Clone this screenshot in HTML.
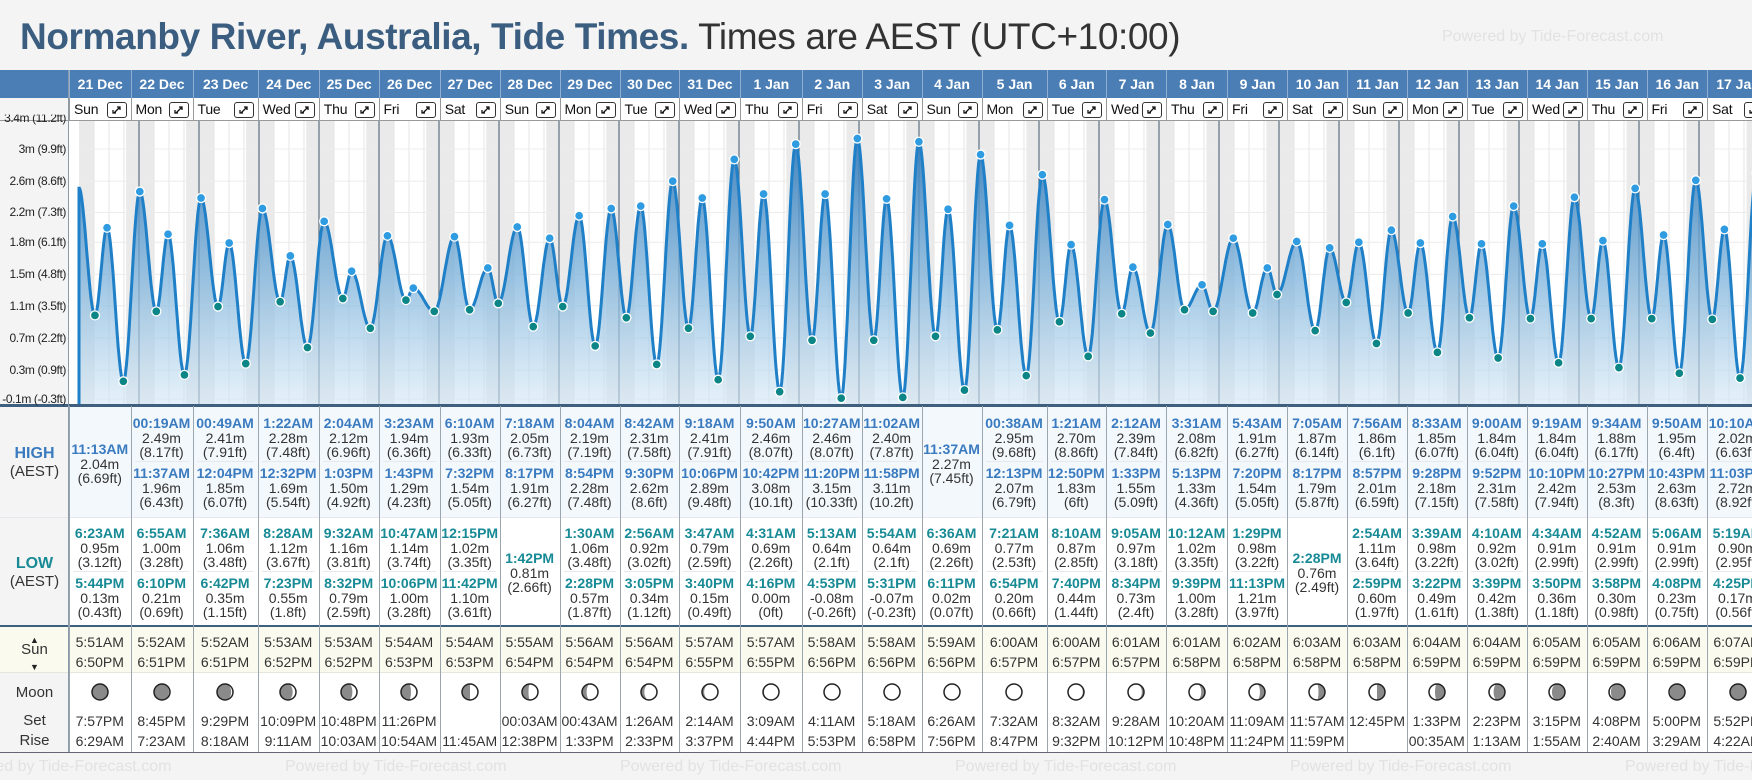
<!DOCTYPE html>
<html><head><meta charset="utf-8">
<style>
*{box-sizing:border-box;margin:0;padding:0}
body{width:1752px;height:780px;overflow:hidden;background:#f4f4f4;font-family:"Liberation Sans",Arial,sans-serif;position:relative;color:#333}
.abs{position:absolute}
#root{position:absolute;left:0;top:0;width:1752px;height:780px;overflow:hidden}
#title{left:20px;top:16px;font-size:37px;white-space:nowrap;color:#333;letter-spacing:-0.4px}
#title b{color:#3a5d80}
.wm{color:#e2e2e2;font-size:16px;white-space:nowrap}
.cell{position:absolute;text-align:center;font-size:14px;line-height:14px;white-space:nowrap}
.hd{color:#fff;font-weight:bold;font-size:14px;text-align:center;line-height:28px}
</style></head><body>
<div id="root"></div>
<div id="title" class="abs"><b>Normanby River, Australia, Tide Times.</b> Times are AEST (UTC+10:00)</div>
<div class="abs wm" style="left:1442px;top:28px">Powered by Tide-Forecast.com</div>
<svg id="chart" class="abs" style="left:69px;top:121px" width="1683" height="283" viewBox="69 121 1683 283"></svg>
<script>
const days=['21 Dec','22 Dec','23 Dec','24 Dec','25 Dec','26 Dec','27 Dec','28 Dec','29 Dec','30 Dec','31 Dec','1 Jan','2 Jan','3 Jan','4 Jan','5 Jan','6 Jan','7 Jan','8 Jan','9 Jan','10 Jan','11 Jan','12 Jan','13 Jan','14 Jan','15 Jan','16 Jan','17 Jan'];
const weekdays=['Sun','Mon','Tue','Wed','Thu','Fri','Sat','Sun','Mon','Tue','Wed','Thu','Fri','Sat','Sun','Mon','Tue','Wed','Thu','Fri','Sat','Sun','Mon','Tue','Wed','Thu','Fri','Sat'];
const highs=[[['11:13AM',2.04]],[['00:19AM',2.49],['11:37AM',1.96]],[['00:49AM',2.41],['12:04PM',1.85]],[['1:22AM',2.28],['12:32PM',1.69]],[['2:04AM',2.12],['1:03PM',1.50]],[['3:23AM',1.94],['1:43PM',1.29]],[['6:10AM',1.93],['7:32PM',1.54]],[['7:18AM',2.05],['8:17PM',1.91]],[['8:04AM',2.19],['8:54PM',2.28]],[['8:42AM',2.31],['9:30PM',2.62]],[['9:18AM',2.41],['10:06PM',2.89]],[['9:50AM',2.46],['10:42PM',3.08]],[['10:27AM',2.46],['11:20PM',3.15]],[['11:02AM',2.40],['11:58PM',3.11]],[['11:37AM',2.27]],[['00:38AM',2.95],['12:13PM',2.07]],[['1:21AM',2.70],['12:50PM',1.83]],[['2:12AM',2.39],['1:33PM',1.55]],[['3:31AM',2.08],['5:13PM',1.33]],[['5:43AM',1.91],['7:20PM',1.54]],[['7:05AM',1.87],['8:17PM',1.79]],[['7:56AM',1.86],['8:57PM',2.01]],[['8:33AM',1.85],['9:28PM',2.18]],[['9:00AM',1.84],['9:52PM',2.31]],[['9:19AM',1.84],['10:10PM',2.42]],[['9:34AM',1.88],['10:27PM',2.53]],[['9:50AM',1.95],['10:43PM',2.63]],[['10:10AM',2.02],['11:03PM',2.72]]];
const lows=[[['6:23AM',0.95],['5:44PM',0.13]],[['6:55AM',1.00],['6:10PM',0.21]],[['7:36AM',1.06],['6:42PM',0.35]],[['8:28AM',1.12],['7:23PM',0.55]],[['9:32AM',1.16],['8:32PM',0.79]],[['10:47AM',1.14],['10:06PM',1.00]],[['12:15PM',1.02],['11:42PM',1.10]],[['1:42PM',0.81]],[['1:30AM',1.06],['2:28PM',0.57]],[['2:56AM',0.92],['3:05PM',0.34]],[['3:47AM',0.79],['3:40PM',0.15]],[['4:31AM',0.69],['4:16PM',0.00]],[['5:13AM',0.64],['4:53PM',-0.08]],[['5:54AM',0.64],['5:31PM',-0.07]],[['6:36AM',0.69],['6:11PM',0.02]],[['7:21AM',0.77],['6:54PM',0.20]],[['8:10AM',0.87],['7:40PM',0.44]],[['9:05AM',0.97],['8:34PM',0.73]],[['10:12AM',1.02],['9:39PM',1.00]],[['1:29PM',0.98],['11:13PM',1.21]],[['2:28PM',0.76]],[['2:54AM',1.11],['2:59PM',0.60]],[['3:39AM',0.98],['3:22PM',0.49]],[['4:10AM',0.92],['3:39PM',0.42]],[['4:34AM',0.91],['3:50PM',0.36]],[['4:52AM',0.91],['3:58PM',0.30]],[['5:06AM',0.91],['4:08PM',0.23]],[['5:19AM',0.90],['4:25PM',0.17]]];
const prevHigh=[-0.2,2.55];
const sunrise=['5:51AM','5:52AM','5:52AM','5:53AM','5:53AM','5:54AM','5:54AM','5:55AM','5:56AM','5:56AM','5:57AM','5:57AM','5:58AM','5:58AM','5:59AM','6:00AM','6:00AM','6:01AM','6:01AM','6:02AM','6:03AM','6:03AM','6:04AM','6:04AM','6:05AM','6:05AM','6:06AM','6:07AM'];
const sunset=['6:50PM','6:51PM','6:51PM','6:52PM','6:52PM','6:53PM','6:53PM','6:54PM','6:54PM','6:54PM','6:55PM','6:55PM','6:56PM','6:56PM','6:56PM','6:57PM','6:57PM','6:57PM','6:58PM','6:58PM','6:58PM','6:58PM','6:59PM','6:59PM','6:59PM','6:59PM','6:59PM','6:59PM'];
const moonTop=['7:57PM','8:45PM','9:29PM','10:09PM','10:48PM','11:26PM','','00:03AM','00:43AM','1:26AM','2:14AM','3:09AM','4:11AM','5:18AM','6:26AM','7:32AM','8:32AM','9:28AM','10:20AM','11:09AM','11:57AM','12:45PM','1:33PM','2:23PM','3:15PM','4:08PM','5:00PM','5:52PM'];
const moonBottom=['6:29AM','7:23AM','8:18AM','9:11AM','10:03AM','10:54AM','11:45AM','12:38PM','1:33PM','2:33PM','3:37PM','4:44PM','5:53PM','6:58PM','7:56PM','8:47PM','9:32PM','10:12PM','10:48PM','11:24PM','11:59PM','','00:35AM','1:13AM','1:55AM','2:40AM','3:29AM','4:22AM'];
const moonPhase=[0.04,0.08,0.11,0.15,0.18,0.21,0.25,0.28,0.32,0.35,0.38,0.42,0.45,0.49,0.52,0.55,0.59,0.62,0.66,0.69,0.72,0.75,0.79,0.82,0.86,0.89,0.92,0.96];
const tickVals=[-0.09,0.27,0.67,1.07,1.46,1.86,2.23,2.62,3.02,3.41];
const tickLabels=['-0.1m (-0.3ft)','0.3m (0.9ft)','0.7m (2.2ft)','1.1m (3.5ft)','1.5m (4.8ft)','1.8m (6.1ft)','2.2m (7.3ft)','2.6m (8.6ft)','3m (9.9ft)','3.4m (11.2ft)'];
const edges=[69,130.5,192.5,257.6,318.8,378.5,439.7,499.7,559.5,619.5,679,740,801.7,861.8,921.5,981.5,1046.6,1106,1166,1227,1287,1347,1407,1466.5,1527,1586.6,1646.5,1707,1768];

function hrs(s){const m=s.match(/(\d+):(\d+)(AM|PM)/);let h=(+m[1])%12;if(m[3]=='PM')h+=12;return h+(+m[2])/60;}
function X(t){return 79+t*2.5;}
function Y(v){return 399-(v+0.09)*80.4;}
function ft(m){return parseFloat((m*3.28084).toFixed(2))+'ft';}
const root=document.getElementById('root');
function box(l,t,w,h,bg,name){const d=document.createElement('div');d.className='abs';d.style.cssText=`left:${l}px;top:${t}px;width:${w}px;height:${h}px;background:${bg}`;


root.appendChild(d);return d;}
function txt(l,t,w,s,color,bold,name,size){const d=document.createElement('div');d.className='cell';d.style.cssText=`left:${l}px;top:${t}px;width:${w}px;color:${color};${bold?'font-weight:bold;':''}${size?'font-size:'+size+'px;':''}`;d.textContent=s;


root.appendChild(d);return d;}

box(0,70,1752,28,'#4b7eb4','date-header-bar');
box(69,98,1683,23,'#fff','weekday-row');
box(0,121,69,285,'#f4f4f4','y-axis-panel');
box(69,406,1683,111,'#f3f8fd','high-tide-section');
box(69,517,1683,109,'#fff','low-tide-section');
box(0,626,1752,47,'#fafaee','sun-section');
box(69,673,1683,79,'#fff','moon-section');
box(0,404,1752,3,'#3e5f7e','chart-bottom-border');
box(0,625,1752,2,'#3e5f7e','low-bottom-border');
box(0,517,1752,1,'#e4e8ec','high-low-divider');
box(0,672,1752,1,'#e6e6dc','sun-moon-divider');
box(0,752,1752,1,'#667','moon-bottom-border');
box(0,120,1752,1,'#999','weekday-bottom-border');
box(68,70,1,682,'#8a9aa8','left-column-border');

txt(0,447,69,'HIGH','#3a7bbf',true,'high-label',16);
txt(0,465,69,'(AEST)','#333',false,'high-aest-label',15);
txt(0,557,69,'LOW','#178a95',true,'low-label',16);
txt(0,575,69,'(AEST)','#333',false,'low-aest-label',15);
txt(0,633,69,'▲','#222',false,'sun-up-arrow',9);
txt(0,643,69,'Sun','#333',false,'sun-label',15);
txt(0,660,69,'▼','#222',false,'sun-down-arrow',9);
txt(0,686,69,'Moon','#333',false,'moon-label',15);
txt(0,714,69,'Set','#333',false,'moonset-label',15);
txt(0,734,69,'Rise','#333',false,'moonrise-label',15);
for(let k=0;k<tickLabels.length;k++){const d=txt(0,0,66,tickLabels[k],'#222',false,'y-tick-label',12);d.style.textAlign='right';d.style.letterSpacing='-0.4px';d.style.top=(Y(tickVals[k])-7)+'px';if(Y(tickVals[k])<125)d.style.clipPath='inset(4px 0 0 0)';}

days.forEach((dname,i)=>{
 const l=edges[i],w=edges[i+1]-edges[i];
 const h=document.createElement('div');h.className='abs hd';h.style.cssText=`left:${l}px;top:70px;width:${w}px;height:28px;border-left:1px solid #8fb0d2`;h.textContent=dname;
 
 
 root.appendChild(h);
 const wd=document.createElement('div');wd.className='abs';wd.style.cssText=`left:${l}px;top:98px;width:${w}px;height:23px;border-left:1px solid #999;font-size:14px;line-height:23px;padding-left:4px;color:#111;letter-spacing:-0.2px`;wd.textContent=weekdays[i];
 
 
 root.appendChild(wd);
 const ic=document.createElement('div');ic.className='abs';ic.style.cssText=`left:${l+w-24}px;top:102px;width:20px;height:16px;border:1px solid #333;border-radius:3px;background:#fff`;
 ic.innerHTML='<svg width="18" height="14"><path d="M6 10 L12 4 M9 4 L12 4 L12 7 M5 7 L5 10 L8 10" stroke="#111" stroke-width="1.3" fill="none"/></svg>';
 
 
 root.appendChild(ic);
 box(l,406,1,346,'#9aa5ae','column-divider');
 const rows=(arr,top0,colr,sec,single)=>{
  if(arr.length==1){const c=top0+(single);txt(l,c,w,arr[0][0],colr,true,sec+'-time');txt(l,c+15,w,arr[0][1].toFixed(2)+'m','#333',false,sec+'-height-m');txt(l,c+29,w,'('+ft(arr[0][1])+')','#333',false,sec+'-height-ft');}
  else arr.forEach((e,j)=>{const c=top0+j*50;txt(l,c,w,e[0],colr,true,sec+'-time');txt(l,c+15,w,e[1].toFixed(2)+'m','#333',false,sec+'-height-m');txt(l,c+29,w,'('+ft(e[1])+')','#333',false,sec+'-height-ft');if(j==0)box(l+4,c+45,w-8,1,'#e6e9ed',sec+'-entry-divider');});
 };
 rows(highs[i],416,'#3a7bbf','high-tide',26);
 rows(lows[i],526,'#178a95','low-tide',25);
 txt(l,635,w,sunrise[i],'#333',false,'sunrise-time');
 txt(l,655,w,sunset[i],'#333',false,'sunset-time');
 txt(l,714,w,moonTop[i],'#333',false,'moonset-time');
 txt(l,734,w,moonBottom[i],'#333',false,'moonrise-time');
 const p=moonPhase[i],r=8,rx=Math.abs(Math.cos(2*Math.PI*p))*r;let path;
 if(p<0.5){path=`M0 ${-r} A${r} ${r} 0 0 1 0 ${r} A${rx} ${r} 0 0 ${p<0.25?0:1} 0 ${-r}Z`;}
 else{path=`M0 ${-r} A${r} ${r} 0 0 0 0 ${r} A${rx} ${r} 0 0 ${p<0.75?0:1} 0 ${-r}Z`;}
 const mi=document.createElement('div');mi.className='abs';mi.style.cssText=`left:${l+w/2-10}px;top:682px;width:20px;height:20px`;
 mi.innerHTML=`<svg width="20" height="20" viewBox="-10 -10 20 20"><circle r="8" fill="#8a8a8a"/><path d="${path}" fill="#fff"/><circle r="8" fill="none" stroke="#222" stroke-width="1.5"/></svg>`;
 
 
 root.appendChild(mi);
});
box(0,753,1752,27,'#f4f4f4','footer');
for(let k=0;k<6;k++){const d=document.createElement('div');d.className='abs wm';d.style.cssText=`left:${-50+k*335}px;top:758px`;d.textContent='Powered by Tide-Forecast.com';
 
 
 root.appendChild(d);}

const svg=document.getElementById('chart');const NS='http://www.w3.org/2000/svg';
function el(tag,attrs){const e=document.createElementNS(NS,tag);for(const k in attrs)e.setAttribute(k,attrs[k]);svg.appendChild(e);return e;}
let g=el('rect',{x:69,y:121,width:1683,height:285,fill:'#fff'});


days.forEach((d,i)=>{const s=X(i*24+hrs(sunset[i])),e=X((i+1)*24+hrs(sunrise[Math.min(i+1,days.length-1)]));
 const r=el('rect',{x:s,y:121,width:e-s,height:285,fill:'#eaeaea'});
 
 });
{const r=el('rect',{x:79,y:121,width:X(hrs(sunrise[0]))-79,height:285,fill:'#eaeaea'});
 
 }
for(let t=6;t<28*24;t+=6){if(t%24==0)continue;const l=el('line',{x1:X(t),x2:X(t),y1:121,y2:406,stroke:'#e4e4e4','stroke-width':1});
 
 }
tickVals.forEach(v=>{const l=el('line',{x1:79,x2:1752,y1:Y(v),y2:Y(v),stroke:'#ececec','stroke-width':1});
 
 });
for(let i=1;i<28;i++){const l=el('line',{x1:X(i*24),x2:X(i*24),y1:121,y2:406,stroke:'#5a6f82','stroke-width':1.2});
 
 }
const ext=[];days.forEach((d,i)=>{highs[i].forEach(e=>ext.push([i*24+hrs(e[0]),e[1],'high']));lows[i].forEach(e=>ext.push([i*24+hrs(e[0]),e[1],'low']));});
ext.sort((a,b)=>a[0]-b[0]);
const pts=[[prevHigh[0],prevHigh[1]],...ext];
let dd='';const N=16;
for(let k=0;k<pts.length-1;k++){const [t0,h0]=pts[k],[t1,h1]=pts[k+1];for(let j=(k==0?0:1);j<=N;j++){let t=t0+(t1-t0)*j/N,h=h0+(h1-h0)*(1-Math.cos(Math.PI*j/N))/2;
 if(t<0)continue;dd+=(dd?'L':'M')+X(t).toFixed(1)+' '+Y(h).toFixed(1);}}
const defs=el('defs',{});defs.innerHTML='<linearGradient id="fg" gradientUnits="userSpaceOnUse" x1="0" y1="130" x2="0" y2="406"><stop offset="0" stop-color="#2f78b8" stop-opacity="0.95"/><stop offset="0.55" stop-color="#7fb4dc" stop-opacity="0.75"/><stop offset="1" stop-color="#d4e8f6" stop-opacity="0.6"/></linearGradient>';
const lastX=dd.match(/([\d.]+) [\d.]+$/)[1];
const area=el('path',{d:dd+`L${lastX} 406 L79 406Z`,fill:'url(#fg)'});


const line=el('path',{d:dd+`M79 ${Y(pts[0][1])}L79 406`,fill:'none',stroke:'#1f80c8','stroke-width':3,'stroke-linejoin':'round'});


ext.forEach(e=>{const c=el('circle',{cx:X(e[0]),cy:Y(e[1]),r:4.5,fill:e[2]=='high'?'#2f9be0':'#0b8585',stroke:'#fff','stroke-width':1.3});
 
 });
</script>
</body></html>
